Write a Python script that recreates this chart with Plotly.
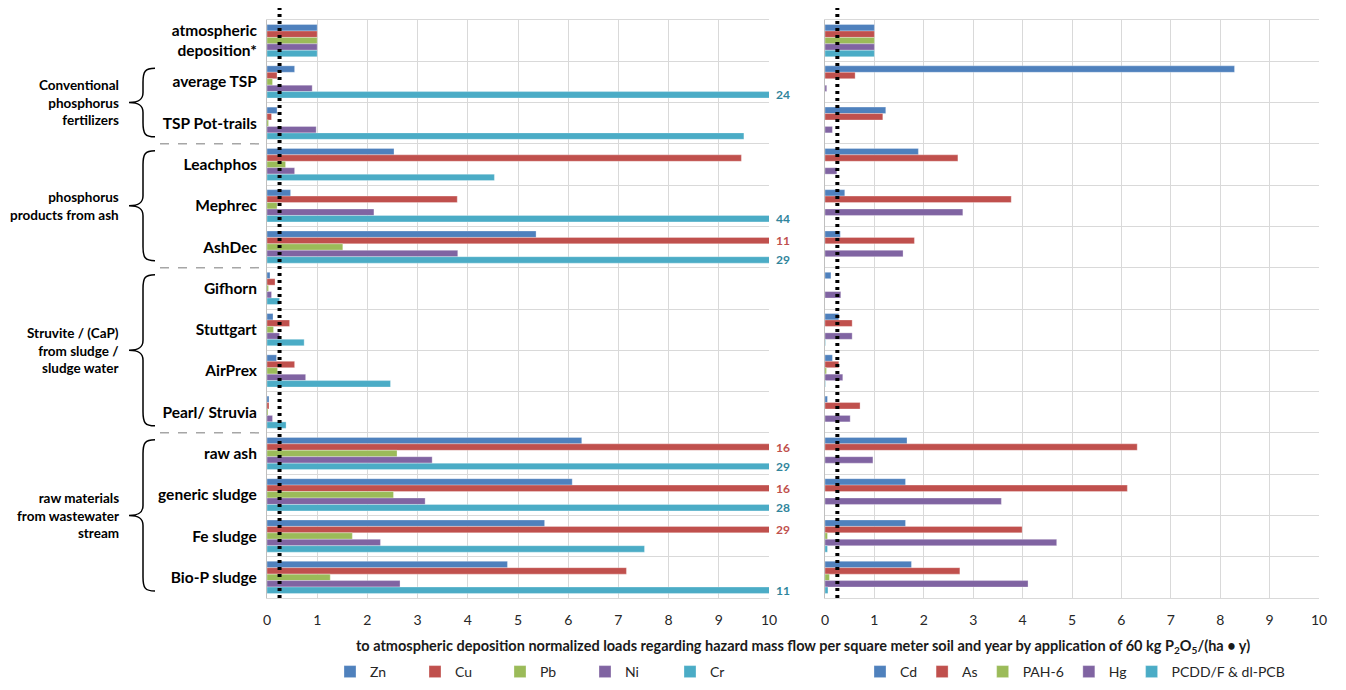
import plotly.graph_objects as go

# ---------------- data ----------------
categories = ["atmospheric<br>deposition*", "average TSP", "TSP Pot-trails", "Leachphos",
              "Mephrec", "AshDec", "Gifhorn", "Stuttgart", "AirPrex", "Pearl/ Struvia",
              "raw ash", "generic sludge", "Fe sludge", "Bio-P sludge"]

zn = [1, 0.55, 0.20, 2.53, 0.47, 5.36, 0.06, 0.12, 0.19, 0.04, 6.27, 6.08, 5.53, 4.79]
cu = [1, 0.20, 0.09, 9.45, 3.79, 11, 0.16, 0.45, 0.55, 0.04, 16, 16, 29, 7.16]
pb = [1, 0.11, 0.03, 0.37, 0.20, 1.51, 0.03, 0.13, 0.21, 0.02, 2.59, 2.52, 1.70, 1.26]
ni = [1, 0.90, 0.98, 0.55, 2.13, 3.80, 0.09, 0.25, 0.77, 0.11, 3.29, 3.15, 2.26, 2.65]
cr = [1, 24, 9.50, 4.53, 44, 29, 0.25, 0.74, 2.46, 0.38, 29, 28, 7.52, 11]

cd = [1, 8.29, 1.23, 1.89, 0.40, 0.31, 0.12, 0.28, 0.15, 0.05, 1.66, 1.63, 1.63, 1.75]
as_ = [1, 0.61, 1.17, 2.69, 3.77, 1.81, 0, 0.55, 0.28, 0.71, 6.32, 6.12, 3.99, 2.73]
pah6 = [1, 0, 0, 0, 0, 0, 0, 0, 0.03, 0, 0, 0, 0.05, 0.09]
hg = [1, 0.035, 0.15, 0.24, 2.79, 1.58, 0.32, 0.55, 0.36, 0.51, 0.97, 3.57, 4.69, 4.11]
pcdd = [1, 0, 0, 0, 0, 0, 0, 0.01, 0.01, 0, 0, 0, 0.05, 0.06]

left_names = ["Zn", "Cu", "Pb", "Ni", "Cr"]
right_names = ["Cd", "As", "PAH-6", "Hg", "PCDD/F & dl-PCB"]
colors = ["#4F81BD", "#C0504D", "#9BBB59", "#8064A2", "#4BACC6"]
label_colors = ["#4F81BD", "#C0504D", "#9BBB59", "#8064A2", "#31859C"]

groups = [("Conventional<br>phosphorus<br>fertilizers", 1, 2),
          ("phosphorus<br>products from ash", 3, 5),
          ("Struvite / (CaP)<br>from sludge /<br>sludge water", 6, 9),
          ("raw materials<br>from wastewater<br>stream", 10, 13)]

reference_level = 0.25
x_max = 10

# ---------------- geometry (screen pixels; page body has an 8px margin) ----------------
OFF = 8
W, H = 1346 - OFF, 690 - OFF
L_PX, R_PX, T_PX, B_PX = 267, 1319, 20, 598   # plot area on screen
ML, MR, MT, MB = L_PX - OFF, W - (R_PX - OFF), T_PX - OFF, H - (B_PX - OFF)
PW, PH = W - ML - MR, H - MT - MB
FONT = "Lato"


def px2x(px):
    return (px - L_PX) / PW


def px2y(py):
    return (B_PX - py) / PH


def row_px(i):
    return T_PX + PH * i / len(categories)


fig = go.Figure()
left_series = [zn, cu, pb, ni, cr]
right_series = [cd, as_, pah6, hg, pcdd]
for k in range(5):
    fig.add_trace(go.Bar(y=categories, x=left_series[k], name=left_names[k], orientation="h",
                         marker=dict(color=colors[k], line=dict(color="rgba(255,255,255,0.5)", width=0.6)),
                         xaxis="x", yaxis="y", legend="legend", hoverinfo="x+y+name"))
for k in range(5):
    fig.add_trace(go.Bar(y=categories, x=right_series[k], name=right_names[k], orientation="h",
                         marker=dict(color=colors[k], line=dict(color="rgba(255,255,255,0.5)", width=0.6)),
                         xaxis="x2", yaxis="y2", legend="legend2", hoverinfo="x+y+name"))

grid = "#D9D9D9"
axis_common = dict(range=[0, x_max], dtick=1, showgrid=True, gridcolor=grid, gridwidth=1,
                   zeroline=False, showline=True, linecolor=grid, mirror=True, fixedrange=True,
                   tickfont=dict(family=FONT, size=14, color="#262626"), ticks="",
                   ticklabelstandoff=9)
fig.update_layout(
    width=W, height=H,
    margin=dict(l=ML, r=MR, t=MT, b=MB, autoexpand=False),
    plot_bgcolor="white", paper_bgcolor="white",
    barmode="group", bargap=0.22, bargroupgap=0,
    xaxis=dict(domain=[0, px2x(769)], anchor="y", **axis_common),
    xaxis2=dict(domain=[px2x(825), 1], anchor="y2", **axis_common),
    yaxis=dict(type="category", autorange="reversed", tickson="boundaries", showgrid=True,
               gridcolor=grid, showline=True, linecolor="#BFBFBF", ticks="", anchor="x",
               tickfont=dict(family=FONT, size=15.5, color="black", weight="bold"),
               ticklabelstandoff=6),
    yaxis2=dict(type="category", autorange="reversed", tickson="boundaries", showgrid=True,
                gridcolor=grid, showline=True, linecolor="#BFBFBF", ticks="", anchor="x2",
                showticklabels=False, matches="y"),
    legend=dict(orientation="h", x=px2x(330), y=px2y(672), xanchor="left", yanchor="middle",
                entrywidth=40, entrywidthmode="pixels", itemwidth=30,
                font=dict(family=FONT, size=14, color="#262626"), traceorder="normal"),
    legend2=dict(orientation="h", x=px2x(860), y=px2y(672), xanchor="left", yanchor="middle",
                 itemwidth=30, font=dict(family=FONT, size=14, color="#262626"), traceorder="normal"),
    showlegend=True,
)

shapes = []
annotations = []

# dotted reference line in both panels
for xr in ["x", "x2"]:
    shapes.append(dict(type="line", xref=xr, yref="paper", x0=reference_level, x1=reference_level,
                       y0=0, y1=px2y(0), line=dict(color="black", width=4, dash="3px,4px")))

# dashed separators between groups
for g in groups[1:]:
    yy = px2y(row_px(g[1]))
    shapes.append(dict(type="line", xref="paper", yref="paper", x0=px2x(160), x1=px2x(264),
                       y0=yy, y1=yy, line=dict(color="#A6A6A6", width=1.5, dash="dash")))


def pt(x, y):
    return f"{px2x(x):.5f},{px2y(y):.5f}"


# braces and group labels
for text, i0, i1 in groups:
    t = row_px(i0) + 7
    b = row_px(i1 + 1) - 7
    m = (t + b) / 2
    xe, xs, xt = 155, 143, 129
    path = (f"M{pt(xe, t)} C{pt(xs + 2, t)} {pt(xs, t + 3)} {pt(xs, t + 14)} "
            f"L{pt(xs, m - 10)} C{pt(xs, m - 3)} {pt(xs - 4, m)} {pt(xt, m)} "
            f"C{pt(xs - 4, m)} {pt(xs, m + 3)} {pt(xs, m + 10)} "
            f"L{pt(xs, b - 14)} C{pt(xs, b - 3)} {pt(xs + 2, b)} {pt(xe, b)}")
    shapes.append(dict(type="path", xref="paper", yref="paper", path=path,
                       line=dict(color="black", width=1.5)))
    annotations.append(dict(xref="paper", yref="paper", x=px2x(121), y=px2y(m), text=text,
                            showarrow=False, xanchor="right", yanchor="middle", align="right",
                            font=dict(family=FONT, size=13.5, color="black", weight="bold")))

# labels for bars exceeding the axis range
bar_step = (PH / len(categories)) * (1 - 0.22) / 5
for k, series in enumerate(left_series):
    for i, v in enumerate(series):
        if v > x_max:
            annotations.append(dict(xref="x", yref="y", x=x_max, y=categories[i], text=f"{v:g}",
                                    showarrow=False, xanchor="left", yanchor="middle", xshift=5,
                                    yshift=-(k - 2) * bar_step,
                                    font=dict(family=FONT, size=12, color=label_colors[k], weight="bold")))

# axis title
annotations.append(dict(xref="paper", yref="paper", x=px2x(803), y=px2y(646),
                        text="to atmospheric deposition normalized loads regarding hazard mass flow per square meter soil and year by application of 60 kg P<sub>2</sub>O<sub>5</sub>/(ha \u2022 y)",
                        showarrow=False, xanchor="center", yanchor="middle",
                        font=dict(family=FONT, size=14.5, color="#1a1a1a", weight="bold")))

fig.update_layout(shapes=shapes, annotations=annotations)
fig.write_html("out.html")
